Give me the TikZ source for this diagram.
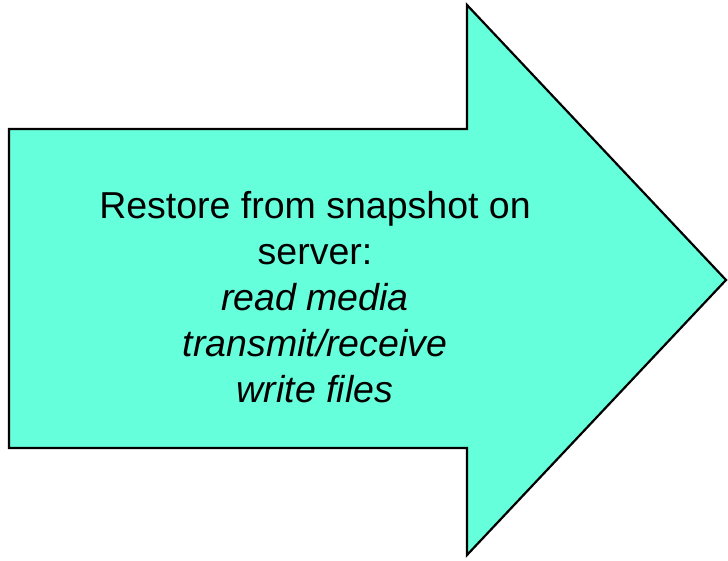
\documentclass[tikz,border=0pt]{standalone}
\usepackage{fontspec}
\setmainfont{Liberation Sans}
\usepackage{tikz}
\definecolor{aqua}{RGB}{102,255,220}

\begin{document}
\begin{tikzpicture}[x=1pt,y=-1pt
  ,line join=miter
  ,semithick]
  \tikzstyle{bigarrow}=[draw=black,line width=2.2pt,fill=aqua]
  \tikzstyle{restore}=[align=center,font={\fontsize{37.5}{46}\selectfont}]

  \useasboundingbox (0,0) rectangle (728,560);

  % body and head in one outline
  \path[bigarrow] (9,129) -- (467,129) -- (467,5) -- (726,280)
    -- (467,555) -- (467,448) -- (9,448) -- cycle;

  \node[restore] (txt) at (315,297) {Restore from snapshot on\\server:\\
    \textit{read media}\\\textit{transmit/receive}\\\textit{write files}};

\end{tikzpicture}
\end{document}
